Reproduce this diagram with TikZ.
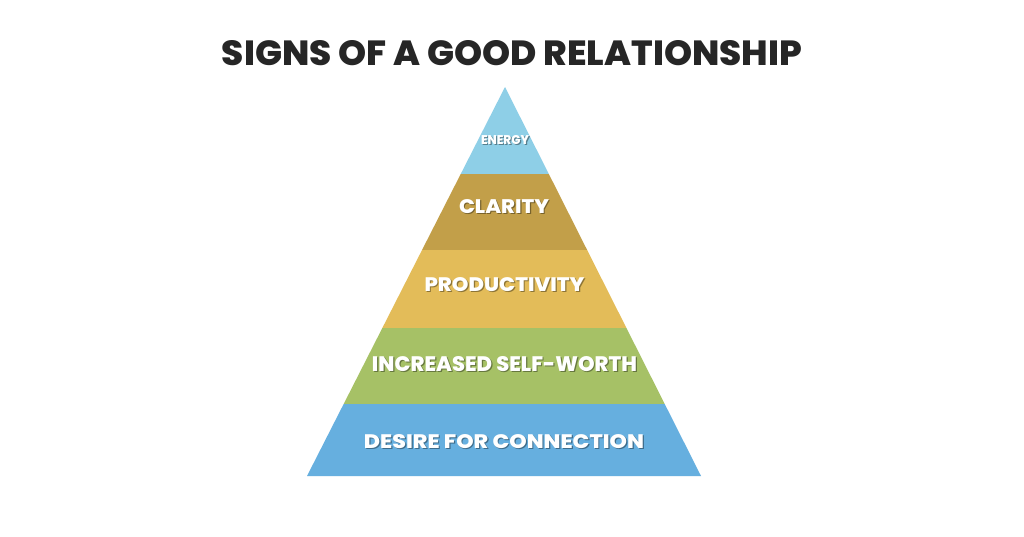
\documentclass[tikz,border=0pt]{standalone}
\usepackage{fontspec}
\setmainfont{Poppins}[UprightFont=* ExtraBold]
\definecolor{cEnergy}{HTML}{8ECFE7}
\definecolor{cClarity}{HTML}{C29F49}
\definecolor{cProd}{HTML}{E3BC59}
\definecolor{cSelf}{HTML}{A6C166}
\definecolor{cDesire}{HTML}{66AFDF}
\definecolor{cTitle}{HTML}{262626}
\tikzset{
  lbl/.style={text=white, inner sep=0pt, anchor=center},
}
% #1 shadow colour, #2 width, #3 height, #4 text
\newcommand{\shtext}[4]{%
  \rlap{\hspace{1.2pt}\raisebox{-1.8pt}{\textcolor{#1}{\resizebox{#2pt}{#3pt}{#4}}}}%
  \resizebox{#2pt}{#3pt}{#4}%
}
\begin{document}
\begin{tikzpicture}[x=1pt,y=-1pt]
\useasboundingbox[fill=white] (0,0) rectangle (1024,536);
% pyramid geometry
\coordinate (L0) at (505,87);
\coordinate (L1a) at (460.72,174);
\coordinate (L1b) at (548.84,174);
\coordinate (L2a) at (422.03,250);
\coordinate (L2b) at (587.13,250);
\coordinate (L3a) at (382.33,328);
\coordinate (L3b) at (626.43,328);
\coordinate (L4a) at (343.65,404);
\coordinate (L4b) at (664.72,404);
\coordinate (L5a) at (307,476);
\coordinate (L5b) at (701,476);
\fill[cEnergy] (L0) -- (L1b) -- (L1a) -- cycle;
\fill[cClarity] (L1a) -- (L1b) -- (L2b) -- (L2a) -- cycle;
\fill[cProd] (L2a) -- (L2b) -- (L3b) -- (L3a) -- cycle;
\fill[cSelf] (L3a) -- (L3b) -- (L4b) -- (L4a) -- cycle;
\fill[cDesire] (L4a) -- (L4b) -- (L5b) -- (L5a) -- cycle;
% title
\node[text=cTitle, inner sep=0pt] (title) at (512,53) {\resizebox{580pt}{25pt}{SIGNS OF A GOOD RELATIONSHIP}};
% labels
\node[lbl] (energy) at (505,140.5) {\shtext{cEnergy!62!black}{48}{9}{ENERGY}};
\node[lbl] (clarity) at (504,207) {\shtext{cClarity!62!black}{90}{14}{CLARITY}};
\node[lbl] (productivity) at (504.5,285) {\shtext{cProd!62!black}{160}{14}{PRODUCTIVITY}};
\node[lbl] (selfworth) at (504.5,364.5) {\shtext{cSelf!62!black}{265}{15}{INCREASED SELF-WORTH}};
\node[lbl] (desire) at (504,442) {\shtext{cDesire!62!black}{280}{14}{DESIRE FOR CONNECTION}};
\end{tikzpicture}
\end{document}
